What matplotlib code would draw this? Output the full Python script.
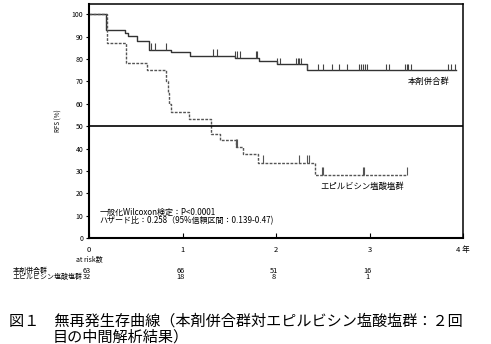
"""
Kaplan-Meier style relapse-free survival plot (reconstructed figure).
"""

import matplotlib
matplotlib.use("Agg")
import matplotlib.pyplot as plt
import numpy as np

plt.rcParams["font.family"] = ["Liberation Sans Narrow", "Noto Sans CJK JP", "DejaVu Sans"]

# step curves (years, RFS %)
trt_t = [0, 0.18, 0.385, 0.414, 0.51, 0.645, 0.877, 1.08, 1.56, 1.82, 2.007, 2.335, 3.93]
trt_s = [100, 93.0, 91.8, 90.5, 87.9, 84.2, 83.2, 81.5, 80.6, 79.1, 77.6, 74.9, 74.9]
trt_cens = [0.663, 0.706, 0.824, 1.33, 1.374, 1.561, 1.58, 1.62, 1.786, 1.80, 2.007, 2.04,
            2.214, 2.232, 2.249, 2.264, 2.335, 2.45, 2.506, 2.596, 2.677, 2.756, 2.891,
            2.909, 2.934, 2.952, 2.97, 3.173, 3.205, 3.38, 3.398, 3.415, 3.441, 3.843,
            3.868, 3.914]

ctl_t = [0, 0.19, 0.396, 0.617, 0.82, 0.84, 0.86, 0.874, 1.073, 1.31, 1.40, 1.572,
         1.65, 1.81, 2.417, 3.40]
ctl_s = [100, 87.3, 78.4, 75.0, 70.0, 65.0, 60.0, 56.3, 53.2, 46.5, 43.7, 40.6,
         37.5, 33.7, 28.2, 28.2]
ctl_cens = [1.572, 1.586, 1.857, 2.25, 2.33, 2.35, 2.49, 2.506, 2.93, 2.945, 3.40]

risk_times = [0, 1, 2, 3]
risk_trt = [63, 66, 51, 16]
risk_ctl = [32, 18, 8, 1]
group_names = ["本剤併合群", "エピルビシン塩酸塩群"]


def step_value(times, surv, t):
    i = np.searchsorted(times, t, side="right") - 1
    return np.asarray(surv)[i]


fig = plt.figure(figsize=(4.91, 3.44), dpi=100)
ax = fig.add_axes([89 / 491, 1 - 238 / 344, 374 / 491, 234 / 344])

ax.step(trt_t, trt_s, where="post", color="#333333", lw=1.0)
ax.step(ctl_t, ctl_s, where="post", color="#555555", lw=1.0, linestyle=(0, (2, 1)))

trt_y = step_value(trt_t, trt_s, trt_cens)
ax.vlines(trt_cens, trt_y, trt_y + 3, color="#444444", lw=0.8)
ctl_y = step_value(ctl_t, ctl_s, ctl_cens)
ax.vlines(ctl_cens, ctl_y, ctl_y + 3.5, color="#555555", lw=0.8)

ax.axhline(50, color="black", lw=1.2)

ax.set_xlim(0, 4)
ax.set_ylim(0, 104.6)
ax.set_yticks(range(0, 101, 10))
ax.set_xticks([0, 1, 2, 3, 4])
ax.set_xticklabels(["0", "1", "2", "3", "4 年"])
ax.tick_params(axis="y", direction="out", length=2.5, width=0.8, pad=1.5, labelsize=5)
ax.tick_params(axis="x", direction="in", length=3.5, width=0.8, pad=6, labelsize=5.5)
for side in ["left", "bottom"]:
    ax.spines[side].set_linewidth(1.5)
for side in ["top", "right"]:
    ax.spines[side].set_linewidth(1.1)
ax.set_ylabel("RFS (%)", fontsize=4.5, labelpad=7)

ax.text(3.63, 70.2, group_names[0], fontsize=6, ha="center", va="center")
ax.text(2.925, 22.9, group_names[1], fontsize=6, ha="center", va="center")
ax.text(0.11, 11.3, "一般化Wilcoxon検定：P<0.0001", fontsize=5.8, ha="left", va="center")
ax.text(0.11, 7.6, "ハザード比：0.258（95%信頼区間：0.139-0.47)", fontsize=5.8,
        ha="left", va="center")

# number at risk table
trans = ax.get_xaxis_transform()
ax.text(0, -0.095, "at risk数", transform=trans, fontsize=5, ha="center", va="center")
for t, a, b in zip(risk_times, risk_trt, risk_ctl):
    ax.text(t - 0.02, -0.139, str(a), transform=trans, fontsize=5.3, ha="center", va="center")
    ax.text(t - 0.02, -0.168, str(b), transform=trans, fontsize=5.3, ha="center", va="center")
fig.text(12.7 / 491, 1 - 270.7 / 344, group_names[0], fontsize=5, ha="left", va="center")
fig.text(12.7 / 491, 1 - 277.3 / 344, group_names[1], fontsize=5, ha="left", va="center")

# caption
cap_font = ["Noto Sans CJK JP", "DejaVu Sans"]
fig.text(9 / 491, 1 - 321 / 344, "図１　無再発生存曲線（本剤併合群対エピルビシン塩酸塩群：２回",
         fontsize=10.9, ha="left", va="center", family=cap_font)
fig.text(53 / 491, 1 - 337 / 344, "目の中間解析結果）",
         fontsize=10.9, ha="left", va="center", family=cap_font)

fig.savefig("out.png", dpi=100)
